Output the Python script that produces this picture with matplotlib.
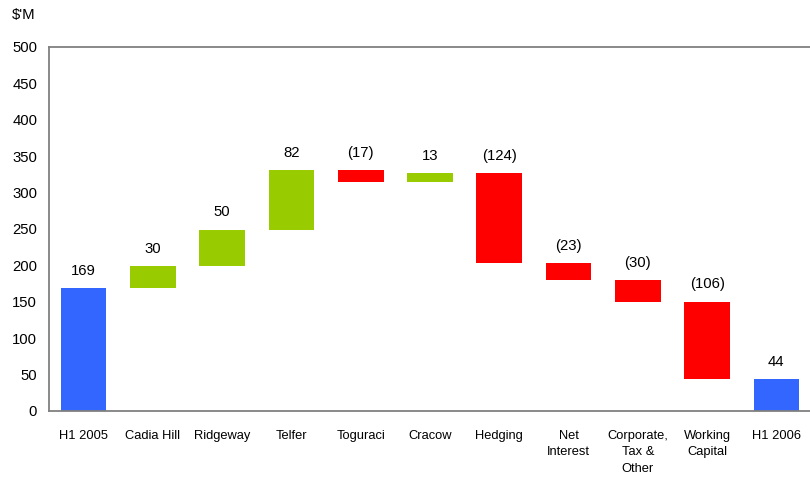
import matplotlib
matplotlib.use("Agg")
import matplotlib.pyplot as plt
import numpy as np

categories = ["H1 2005", "Cadia Hill", "Ridgeway", "Telfer", "Toguraci", "Cracow",
              "Hedging", "Net\nInterest", "Corporate,\nTax &\nOther", "Working\nCapital", "H1 2006"]
changes = [169, 30, 50, 82, -17, 13, -124, -23, -30, -106, 44]
kinds = ["total", "delta", "delta", "delta", "delta", "delta", "delta", "delta", "delta", "delta", "total"]
y_ticks = [0, 50, 100, 150, 200, 250, 300, 350, 400, 450, 500]
unit_label = "$'M"

BLUE = "#3366FF"
GREEN = "#99CC00"
RED = "#FF0000"

plt.rcParams['font.family'] = ['Liberation Sans', 'DejaVu Sans']

fig = plt.figure(figsize=(8.1, 4.79), dpi=100)
ax = fig.add_axes([49/810, 1 - 411/479, 762/810, (411 - 47)/479])

bottoms, heights, colors, tops, labels = [], [], [], [], []
running = 0
for v, k in zip(changes, kinds):
    if k == "total":
        bottoms.append(0)
        heights.append(v)
        colors.append(BLUE)
        running = v
        tops.append(v)
    else:
        if v >= 0:
            bottoms.append(running)
            heights.append(v)
            colors.append(GREEN)
            running += v
            tops.append(running)
        else:
            bottoms.append(running + v)
            heights.append(-v)
            colors.append(RED)
            tops.append(running)
            running += v
    labels.append(f"({-v})" if v < 0 else f"{v}")

x = np.arange(len(categories))
ax.bar(x, heights, bottom=bottoms, width=0.66, color=colors, edgecolor='none', zorder=2)

for xi, t, lab in zip(x, tops, labels):
    ax.annotate(lab, (xi, t), xytext=(0, 12.5), textcoords='offset points',
                ha='center', va='center', fontsize=10.7, color='#000000')

ax.set_xlim(-0.5, len(categories) - 0.5)
ax.set_ylim(0, 500)
ax.set_yticks(y_ticks)
ax.set_yticklabels([str(t) for t in y_ticks], fontsize=10.7)
ax.set_xticks(x)
ax.set_xticklabels(categories, fontsize=9.3, linespacing=1.45)
ax.tick_params(axis='both', length=0)
ax.tick_params(axis='y', pad=8.5)
ax.tick_params(axis='x', pad=14)

for s in ['left', 'top', 'bottom']:
    ax.spines[s].set_color('#808080')
    ax.spines[s].set_linewidth(1.3)
ax.spines['right'].set_visible(False)

fig.text(12/810, 1 - 15/479, unit_label, fontsize=10.7, ha='left', va='center')

fig.savefig("out.png", dpi=100)
